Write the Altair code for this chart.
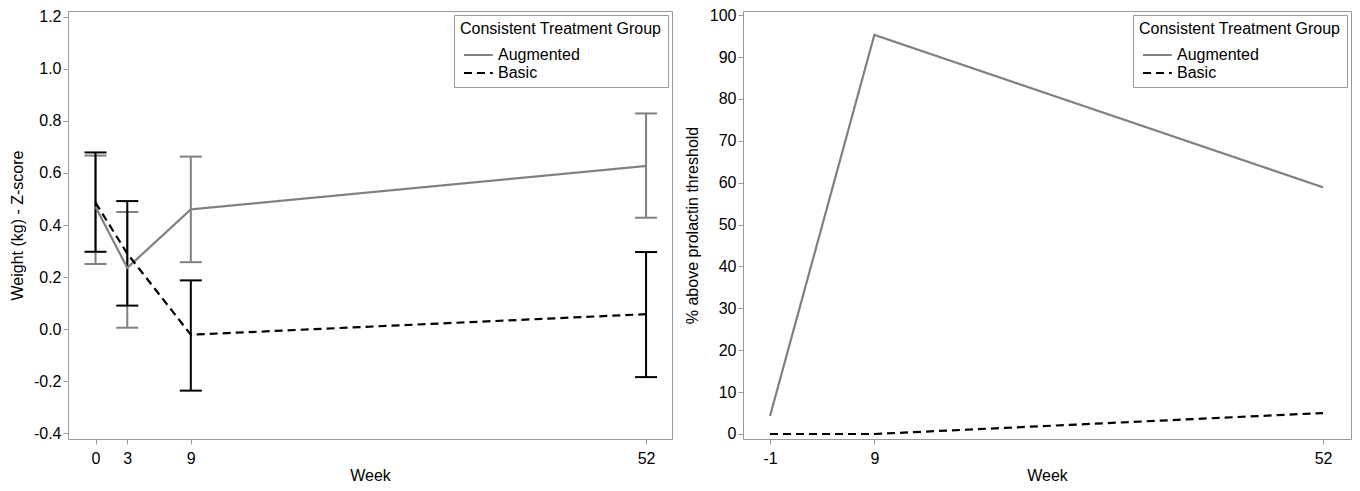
import altair as alt
import pandas as pd

# ---- data ----
groups = ["Augmented", "Basic"]

weeks_w = [0, 3, 9, 52]
aug_mean = [0.47, 0.235, 0.46, 0.627]
aug_lo = [0.25, 0.005, 0.257, 0.428]
aug_hi = [0.667, 0.45, 0.663, 0.829]
basic_mean = [0.486, 0.29, -0.022, 0.057]
basic_lo = [0.297, 0.09, -0.237, -0.185]
basic_hi = [0.679, 0.492, 0.187, 0.296]

weeks_p = [-1, 9, 52]
aug_pct = [4.3, 95.3, 58.9]
basic_pct = [0.0, 0.0, 5.0]

wticks = [0, 3, 9, 52]
pticks = [-1, 9, 52]
zticks = [-0.4, -0.2, 0.0, 0.2, 0.4, 0.6, 0.8, 1.0, 1.2]
pctticks = [0, 10, 20, 30, 40, 50, 60, 70, 80, 90, 100]

FONT = "Liberation Sans"
FS = 16
GRAY = "#808080"
BLACK = "#000000"
group_colors = [GRAY, BLACK]

wdf = pd.DataFrame({
    "week": weeks_w + weeks_w,
    "group": [groups[0]] * len(weeks_w) + [groups[1]] * len(weeks_w),
    "mean": aug_mean + basic_mean,
    "lo": aug_lo + basic_lo,
    "hi": aug_hi + basic_hi,
})
pdf = pd.DataFrame({
    "week": weeks_p + weeks_p,
    "group": [groups[0]] * len(weeks_p) + [groups[1]] * len(weeks_p),
    "pct": aug_pct + basic_pct,
})

color_scale = alt.Scale(domain=groups, range=group_colors)
dash_scale = alt.Scale(domain=groups, range=[[1, 0], [8, 5]])

# horizontal line legend symbol (scaled by sqrt(size)/2 = 4px per unit)
LINE_SYMBOL = "M-1,0H6.2"


def make_legend():
    return alt.Legend(
        title="Consistent Treatment Group",
        orient="top-right",
        offset=4,
        padding=6,
        strokeColor="#999999",
        fillColor="white",
        titleFont=FONT,
        titleFontSize=FS,
        titleFontWeight="normal",
        titleColor="black",
        titlePadding=10,
        titleLimit=400,
        labelFont=FONT,
        labelFontSize=FS,
        labelColor="black",
        labelOffset=22,
        labelLimit=400,
        symbolType=LINE_SYMBOL,
        symbolSize=64,
        symbolStrokeWidth=2,
        rowPadding=2,
    )


neg_int = "datum.value < 0 ? '-' + format(-datum.value, 'd') : format(datum.value, 'd')"
neg_1f = "datum.value < 0 ? '-' + format(-datum.value, '.1f') : format(datum.value, '.1f')"

# ---------------- left panel ----------------
xs_w = alt.Scale(domain=[-2.6, 54.45], nice=False, zero=False)
ys_w = alt.Scale(domain=[-0.423, 1.223], nice=False, zero=False)


def xw(field="week"):
    return alt.X(f"{field}:Q", scale=xs_w, title="Week",
                 axis=alt.Axis(values=wticks, labelExpr=neg_int))


def yw(field):
    return alt.Y(f"{field}:Q", scale=ys_w, title="Weight (kg) - Z-score",
                 axis=alt.Axis(values=zticks, labelExpr=neg_1f))


left_layers = []
for g, c in zip(groups, group_colors):
    base = alt.Chart(wdf).transform_filter(alt.datum.group == g)
    left_layers.append(base.mark_rule(color=c, strokeWidth=2).encode(
        x=xw(), y=yw("lo"), y2="hi:Q"))
    left_layers.append(base.mark_rule(color=c, strokeWidth=2, xOffset=-11, x2Offset=11).encode(
        x=xw(), x2="week:Q", y=yw("lo")))
    left_layers.append(base.mark_rule(color=c, strokeWidth=2, xOffset=-11, x2Offset=11).encode(
        x=xw(), x2="week:Q", y=yw("hi")))

left_line = alt.Chart(wdf).mark_line(strokeWidth=2.2).encode(
    x=xw(), y=yw("mean"),
    color=alt.Color("group:N", scale=color_scale, legend=make_legend()),
    strokeDash=alt.StrokeDash("group:N", scale=dash_scale, legend=make_legend()),
)

left = alt.layer(*left_layers, left_line).properties(width=604, height=428)

# ---------------- right panel ----------------
xs_p = alt.Scale(domain=[-3.59, 54.68], nice=False, zero=False)
ys_p = alt.Scale(domain=[-1.2, 101.0], nice=False, zero=False)

right = alt.Chart(pdf).mark_line(strokeWidth=2.2).encode(
    x=alt.X("week:Q", scale=xs_p, title="Week",
            axis=alt.Axis(values=pticks, labelExpr=neg_int)),
    y=alt.Y("pct:Q", scale=ys_p, title="% above prolactin threshold",
            axis=alt.Axis(values=pctticks, titlePadding=9)),
    color=alt.Color("group:N", scale=color_scale, legend=make_legend()),
    strokeDash=alt.StrokeDash("group:N", scale=dash_scale, legend=make_legend()),
).properties(width=608, height=428)

chart = alt.hconcat(left, right, spacing=10).resolve_scale(
    x="independent", y="independent", color="independent", strokeDash="independent"
).resolve_legend(
    color="independent", strokeDash="independent"
).properties(
    padding={"left": 0, "top": -2, "right": 0, "bottom": 0}
).configure_view(
    stroke="#999999", strokeWidth=1
).configure_axis(
    labelFont=FONT, titleFont=FONT, labelFontSize=FS, titleFontSize=FS,
    titleFontWeight="normal", labelColor="black", titleColor="black",
    tickColor="#999999", tickSize=5, domain=False, grid=False, labelPadding=2,
).configure_axisX(
    labelPadding=6, titlePadding=1
).configure_axisY(
    titlePadding=8
)

chart.save("out.html", embed_options={"renderer": "svg", "actions": False})
